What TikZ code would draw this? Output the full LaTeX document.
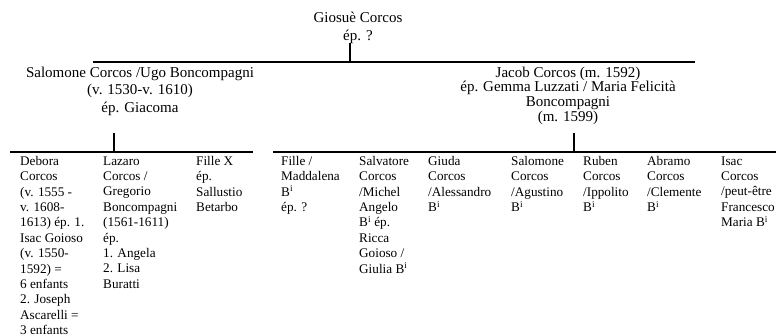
\documentclass[tikz,border=0pt]{standalone}
\usepackage{fontspec}
\setmainfont{Liberation Serif}
\usepackage{tikz}

\tikzset{
  parent/.style={align=center, inner sep=0pt, anchor=north, font=\fontsize{15}{#1}\selectfont},
  child/.style={align=left, inner sep=0pt, anchor=north west, font=\fontsize{13.2}{15.4}\selectfont},
  bar/.style={line width=2pt},
  stub/.style={line width=1.6pt}
}

\begin{document}
\begin{tikzpicture}[x=1pt, y=-1pt]
      \useasboundingbox (0,0) rectangle (776,336);

      % first generation
      \node [parent=18] (giosue) at (358, 12.3) {Giosuè Corcos\\ép. ?};
      \coordinate (gstub) at (350, 43);
      \coordinate (topL) at (93, 62);
      \coordinate (topR) at (695, 62);
      \draw [bar] (topL) -- (topR);
      \draw [stub] (gstub) -- (gstub |- topL);

      % second generation
      \node [parent=17.3] (salomone) at (140, 66.8) {Salomone Corcos /Ugo Boncompagni\\(v. 1530-v. 1610)\\ép. Giacoma};
      \node [parent=14.7] (jacob) at (568, 66.6) {Jacob Corcos (m. 1592)\\ép. Gemma Luzzati / Maria Felicità\\Boncompagni\\(m. 1599)};

      \coordinate (sstub) at (114, 133);
      \coordinate (jstub) at (574, 133);
      \coordinate (leftL) at (10, 152);
      \coordinate (leftR) at (253, 152);
      \coordinate (rightL) at (273, 152);
      \coordinate (rightR) at (776, 152);
      \draw [bar] (leftL) -- (leftR);
      \draw [bar] (rightL) -- (rightR);
      \draw [stub] (sstub) -- (sstub |- leftL);
      \draw [stub] (jstub) -- (jstub |- rightL);

      % third generation
      \node [child] (debora) at (20, 156) {Debora\\Corcos\\(v. 1555 -\\v. 1608-\\1613) ép. 1.\\Isac Goioso\\(v. 1550-\\1592) =\\6 enfants\\2. Joseph\\Ascarelli =\\3 enfants};
      \node [child] (lazaro) at (103, 156.3) {Lazaro\\Corcos /\\Gregorio\\Boncompagni\\(1561-1611)\\ép.\\1. Angela\\2. Lisa\\Buratti};
      \node [child] (fillex) at (196, 156) {Fille X\\ép.\\Sallustio\\Betarbo};
      \node [child] (maddalena) at (281, 156) {Fille /\\Maddalena\\B\textsuperscript{i}\\ép. ?};
      \node [child] (salvatore) at (359, 156) {Salvatore\\Corcos\\/Michel\\Angelo\\B\textsuperscript{i} ép.\\Ricca\\Goioso /\\Giulia B\textsuperscript{i}};
      \node [child] (giuda) at (428, 156) {Giuda\\Corcos\\/Alessandro\\B\textsuperscript{i}};
      \node [child] (salomone2) at (511, 156) {Salomone\\Corcos\\/Agustino\\B\textsuperscript{i}};
      \node [child] (ruben) at (583, 156) {Ruben\\Corcos\\/Ippolito\\B\textsuperscript{i}};
      \node [child] (abramo) at (647, 156) {Abramo\\Corcos\\/Clemente\\B\textsuperscript{i}};
      \node [child] (isac) at (721, 156.3) {Isac\\Corcos\\/peut-être\\Francesco\\Maria B\textsuperscript{i}};
\end{tikzpicture}
\end{document}
